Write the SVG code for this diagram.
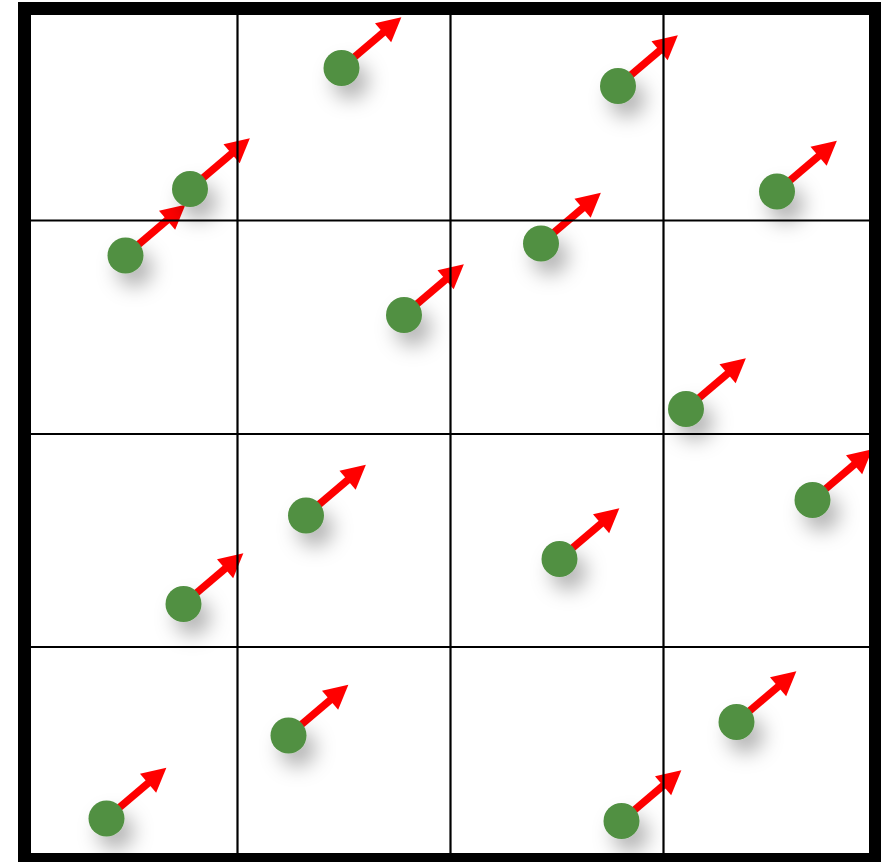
<svg xmlns="http://www.w3.org/2000/svg" width="881" height="862" viewBox="0 0 881 862">
<style>
.bg{fill:#ffffff}
.grid line{stroke:#000;stroke-width:2.2}
.frame{fill:none;stroke:#000;stroke-width:13}
.dot{fill:#519042;filter:url(#sh)}
.shaft{stroke:#ff0000;stroke-width:7.5}
.head{fill:#ff0000}
</style>
<defs>
<filter id="sh" x="-150%" y="-150%" width="400%" height="400%">
<feDropShadow dx="9" dy="13" stdDeviation="10" flood-color="#000" flood-opacity="0.3"/>
</filter>
<g id="arr">
<line class="shaft" x1="0" y1="0" x2="60" y2="0"/>
<polygon class="head" points="54.5,-12.5 78.5,0 54.5,12.5"/>
</g>
</defs>
<rect class="bg" x="0" y="0" width="881" height="862"/>
<g id="connectors">
<use href="#arr" transform="translate(341.5,68) rotate(-40.3)"/>
<use href="#arr" transform="translate(618,86) rotate(-40.3)"/>
<use href="#arr" transform="translate(190,189) rotate(-40.3)"/>
<use href="#arr" transform="translate(777,191.5) rotate(-40.3)"/>
<use href="#arr" transform="translate(125.5,255.5) rotate(-40.3)"/>
<use href="#arr" transform="translate(541,243.5) rotate(-40.3)"/>
<use href="#arr" transform="translate(404,315) rotate(-40.3)"/>
<use href="#arr" transform="translate(686,409) rotate(-40.3)"/>
<use href="#arr" transform="translate(812.5,500) rotate(-40.3)"/>
<use href="#arr" transform="translate(306,515.5) rotate(-40.3)"/>
<use href="#arr" transform="translate(559.5,559) rotate(-40.3)"/>
<use href="#arr" transform="translate(183.5,604) rotate(-40.3)"/>
<use href="#arr" transform="translate(288.5,735.5) rotate(-40.3)"/>
<use href="#arr" transform="translate(736.5,722) rotate(-40.3)"/>
<use href="#arr" transform="translate(106.5,818.5) rotate(-40.3)"/>
<use href="#arr" transform="translate(621.5,821) rotate(-40.3)"/>
</g>
<g id="n1"><circle class="dot" cx="341.5" cy="68" r="18"/></g>
<g id="n2"><circle class="dot" cx="618" cy="86" r="18"/></g>
<g id="n3"><circle class="dot" cx="190" cy="189" r="18"/></g>
<g id="n4"><circle class="dot" cx="777" cy="191.5" r="18"/></g>
<g id="n5"><circle class="dot" cx="125.5" cy="255.5" r="18"/></g>
<g id="n6"><circle class="dot" cx="541" cy="243.5" r="18"/></g>
<g id="n7"><circle class="dot" cx="404" cy="315" r="18"/></g>
<g id="n8"><circle class="dot" cx="686" cy="409" r="18"/></g>
<g id="n9"><circle class="dot" cx="812.5" cy="500" r="18"/></g>
<g id="n10"><circle class="dot" cx="306" cy="515.5" r="18"/></g>
<g id="n11"><circle class="dot" cx="559.5" cy="559" r="18"/></g>
<g id="n12"><circle class="dot" cx="183.5" cy="604" r="18"/></g>
<g id="n13"><circle class="dot" cx="288.5" cy="735.5" r="18"/></g>
<g id="n14"><circle class="dot" cx="736.5" cy="722" r="18"/></g>
<g id="n15"><circle class="dot" cx="106.5" cy="818.5" r="18"/></g>
<g id="n16"><circle class="dot" cx="621.5" cy="821" r="18"/></g>
<g class="grid">
<line x1="237.5" y1="8" x2="237.5" y2="860"/>
<line x1="450.5" y1="8" x2="450.5" y2="860"/>
<line x1="663.5" y1="8" x2="663.5" y2="860"/>
<line x1="24" y1="220.5" x2="876" y2="220.5"/>
<line x1="24" y1="434" x2="876" y2="434"/>
<line x1="24" y1="647" x2="876" y2="647"/>
</g>
<rect class="frame" x="24.5" y="8.5" width="851" height="851"/>
</svg>
